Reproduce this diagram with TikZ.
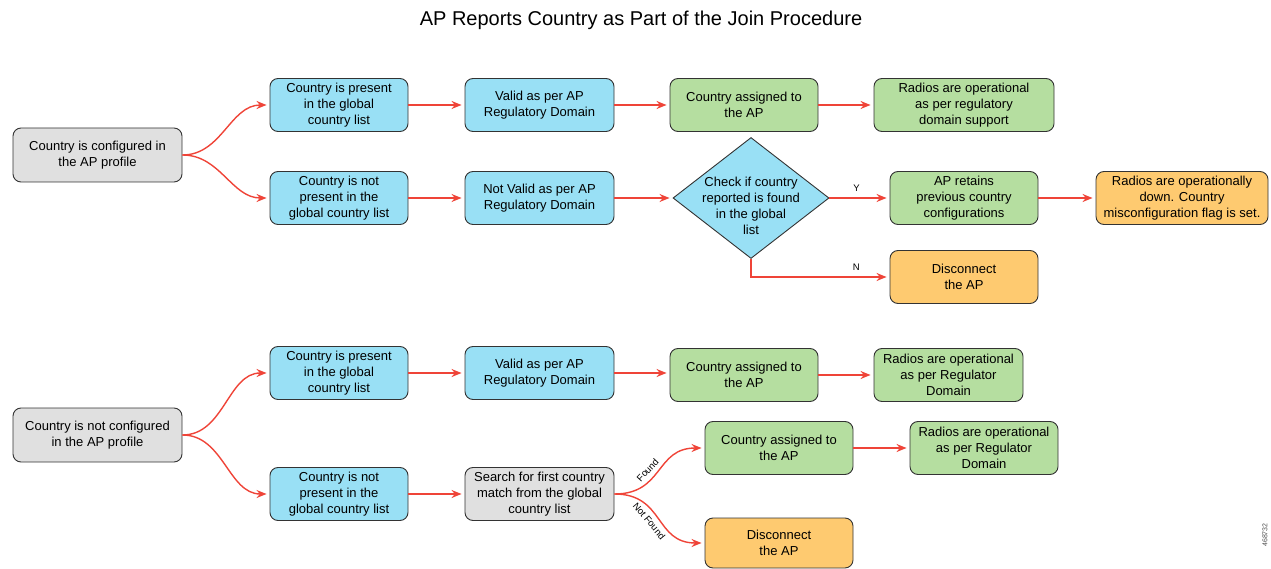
\documentclass[tikz,border=0pt]{standalone}
\usepackage{fontspec}
\setmainfont{Liberation Sans}
\usetikzlibrary{shapes.geometric,arrows.meta}
\definecolor{boxgray}{RGB}{224,224,224}
\definecolor{boxblue}{RGB}{153,224,245}
\definecolor{boxgreen}{RGB}{181,222,160}
\definecolor{boxorange}{RGB}{254,202,112}
\definecolor{flowred}{RGB}{239,68,56}

\begin{document}
\begin{tikzpicture}[x=1pt,y=-1pt,
    box/.style={draw=black!80, line width=0.9pt, rounded corners=8pt, align=center,
        font=\fontsize{13}{16}\selectfont, minimum height=53pt, inner sep=2pt},
    dmd/.style={diamond, draw=black!80, line width=0.9pt, fill=boxblue,
        minimum width=156pt, minimum height=121pt, inner sep=0pt},
    flow/.style={draw=flowred, line width=1.4pt, -{Stealth[length=10pt,width=8pt]}, shorten >=3pt},
    tag/.style={font=\fontsize{9.5}{10}\selectfont}]
    \useasboundingbox (0,0) rectangle (1271,569);

    \node[font=\fontsize{20}{24}\selectfont] (title) at (641,20) {AP Reports Country as Part of the Join Procedure};

    % country configured
    \node[box, fill=boxgray, minimum width=169pt, minimum height=54pt] (cfg) at (97.5,155) {Country is configured in\\the AP profile};
    \node[box, fill=boxblue, minimum width=138pt] (present) at (339,105) {Country is present\\in the global\\country list};
    \node[box, fill=boxblue, minimum width=149pt] (valid) at (539.5,105) {Valid as per AP\\Regulatory Domain};
    \node[box, fill=boxgreen, minimum width=148pt] (assigned) at (744,105) {Country assigned to\\the AP};
    \node[box, fill=boxgreen, minimum width=180pt] (radios) at (964,105) {Radios are operational\\as per regulatory\\domain support};
    \node[box, fill=boxblue, minimum width=138pt] (absent) at (339,198) {Country is not\\present in the\\global country list};
    \node[box, fill=boxblue, minimum width=149pt] (invalid) at (539.5,198) {Not Valid as per AP\\Regulatory Domain};
    \node[dmd] (check) at (751,198) {};
    \node[align=center, font=\fontsize{13}{16}\selectfont] (checktxt) at (751,205.5) {Check if country\\reported is found\\in the global\\list};
    \node[box, fill=boxgreen, minimum width=148pt] (retain) at (964,198) {AP retains\\previous country\\configurations};
    \node[box, fill=boxorange, minimum width=172pt] (down) at (1182,198) {Radios are operationally\\down. Country\\misconfiguration flag is set.};
    \node[box, fill=boxorange, minimum width=148pt] (disc) at (964,277) {Disconnect\\the AP};

    \draw[flow] (cfg.east) to[out=0,in=180] (present.west);
    \draw[flow] (cfg.east) to[out=0,in=180] (absent.west);
    \draw[flow] (present) -- (valid);
    \draw[flow] (valid) -- (assigned);
    \draw[flow] (assigned) -- (radios);
    \draw[flow] (absent) -- (invalid);
    \draw[flow] (invalid) -- (check);
    \draw[flow] (check) -- node[tag, above=2pt, pos=0.45] {Y} (retain);
    \draw[flow] (retain) -- (down);
    \draw[flow] (check.south) |- node[tag, above=2pt, pos=0.88] {N} (disc);

    % country not configured
    \node[box, fill=boxgray, minimum width=169pt, minimum height=54pt] (nocfg) at (97.5,435) {Country is not configured\\in the AP profile};
    \node[box, fill=boxblue, minimum width=138pt] (present2) at (339,373) {Country is present\\in the global\\country list};
    \node[box, fill=boxblue, minimum width=149pt] (valid2) at (539.5,373) {Valid as per AP\\Regulatory Domain};
    \node[box, fill=boxgreen, minimum width=148pt] (assigned2) at (744,375) {Country assigned to\\the AP};
    \node[box, fill=boxgreen, minimum width=149pt] (radios2) at (948.5,375) {Radios are operational\\as per Regulator\\Domain};
    \node[box, fill=boxblue, minimum width=138pt] (absent2) at (339,494) {Country is not\\present in the\\global country list};
    \node[box, fill=boxgray, minimum width=149pt] (search) at (539.5,494) {Search for first country\\match from the global\\country list};
    \node[box, fill=boxgreen, minimum width=148pt] (assigned3) at (779,448) {Country assigned to\\the AP};
    \node[box, fill=boxgreen, minimum width=148pt] (radios3) at (984,448) {Radios are operational\\as per Regulator\\Domain};
    \node[box, fill=boxorange, minimum width=148pt, minimum height=50pt] (disc2) at (779,543) {Disconnect\\the AP};

    \draw[flow] (nocfg.east) to[out=0,in=180] (present2.west);
    \draw[flow] (nocfg.east) to[out=0,in=180] (absent2.west);
    \draw[flow] (present2) -- (valid2);
    \draw[flow] (valid2.east) -- (valid2.east -| assigned2.west);
    \draw[flow] (assigned2) -- (radios2);
    \draw[flow] (absent2) -- (search);
    \draw[flow] (search.east) to[out=0,in=180,looseness=1.25] node[tag, above=2pt, sloped, pos=0.42] {Found} (assigned3.west);
    \draw[flow] (search.east) to[out=0,in=180,looseness=1.25] node[tag, below=2pt, sloped, pos=0.45] {Not Found} (disc2.west);
    \draw[flow] (assigned3) -- (radios3);

    \node[rotate=90, font=\fontsize{7}{8}\selectfont, text=black!70] (figno) at (1265,535) {468732};
\end{tikzpicture}
\end{document}
